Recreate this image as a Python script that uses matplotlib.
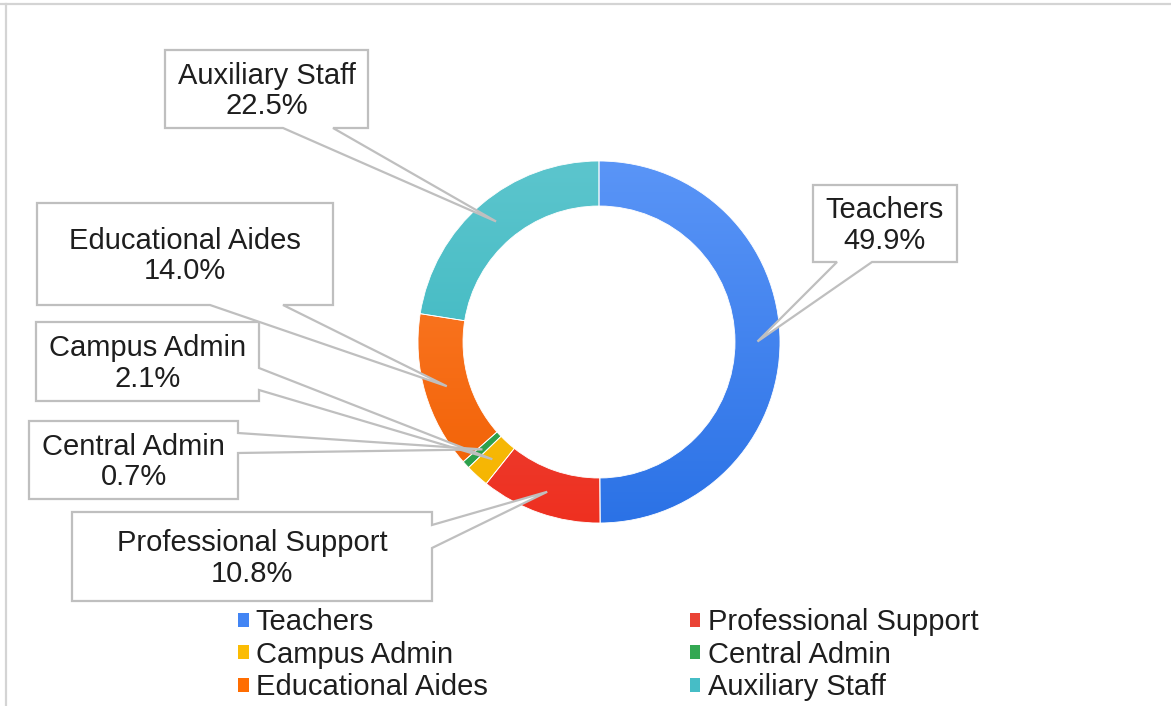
"""
Staff composition donut chart with callout labels.
"""

import matplotlib.pyplot as plt
import numpy as np
from matplotlib.colors import LinearSegmentedColormap
from matplotlib.lines import Line2D
from matplotlib.patches import Patch, Polygon

plt.rcParams['font.family'] = ['Liberation Sans', 'DejaVu Sans']

# --- Data ---
categories = ["Teachers", "Professional Support", "Campus Admin",
              "Central Admin", "Educational Aides", "Auxiliary Staff"]
shares = [49.9, 10.8, 2.1, 0.7, 14.0, 22.5]

# flat colours (legend) and light/dark pairs for the ring gradient
colors = ["#4285F4", "#EA4335", "#FBBC04", "#34A853", "#FF6D01", "#46BDC6"]
grad_light = ["#5A95F7", "#E5564E", "#FCC419", "#3BB05C", "#FF8133", "#5CC5CD"]
grad_dark = ["#2B72E6", "#EF3020", "#F5B400", "#2A9D48", "#F05E00", "#30B3BC"]

# --- Layout (pixels, measured from the top-left corner) ---
W, H = 1171, 706
CENTER = (599, 342)
R_OUT = 181
RING = 45
TEXT_COLOR = "#1E1E1E"
BOX_EDGE = "#BFBFBF"

# callout boxes: left, top, right, bottom, side of the pointer, pointer base
boxes = {
    "Teachers": (813, 185, 957, 262, "bottom", (837, 872)),
    "Professional Support": (72, 512, 432, 601, "right", (525, 548)),
    "Campus Admin": (36, 322, 259, 401, "right", (368, 390)),
    "Central Admin": (29, 421, 238, 499, "right", (433, 453)),
    "Educational Aides": (37, 203, 333, 305, "bottom", (210, 283)),
    "Auxiliary Staff": (165, 50, 368, 128, "bottom", (283, 333)),
}


def fy(y):
    """Pixel row (from top) to data y."""
    return H - y


def callout_outline(left, top, right, bottom, side, base, tip):
    top, bottom = fy(top), fy(bottom)
    if side == "bottom":
        x1, x2 = base
        return [(left, top), (right, top), (right, bottom), (x2, bottom),
                tip, (x1, bottom), (left, bottom)]
    y1, y2 = fy(base[0]), fy(base[1])
    return [(left, top), (right, top), (right, y1), tip, (right, y2),
            (right, bottom), (left, bottom)]


fig = plt.figure(figsize=(W / 100, H / 100), dpi=100)
ax = fig.add_axes([0, 0, 1, 1])

cx, cy = CENTER[0], fy(CENTER[1])
wedges, _ = ax.pie(shares, colors=colors, startangle=90, counterclock=False,
                   center=(cx, cy), radius=R_OUT, frame=True,
                   wedgeprops=dict(width=RING, edgecolor="white", linewidth=0.6))

# vertical gradient inside each slice
grad = np.linspace(0, 1, 256).reshape(-1, 1)
for w, lo, hi in zip(wedges, grad_dark, grad_light):
    cmap = LinearSegmentedColormap.from_list("g", [lo, hi])
    im = ax.imshow(grad, cmap=cmap, origin="lower", aspect="auto",
                   extent=[cx - R_OUT, cx + R_OUT, cy - R_OUT, cy + R_OUT],
                   zorder=1)
    im.set_clip_path(w)
    w.set_facecolor("none")
    w.set_zorder(2)
ax.set_xlim(0, W)
ax.set_ylim(0, H)
ax.axis("off")

# callouts pointing at the middle of each ring segment
r_mid = R_OUT - RING / 2
for w, name, val in zip(wedges, categories, shares):
    ang = np.deg2rad((w.theta1 + w.theta2) / 2)
    tip = (cx + r_mid * np.cos(ang), cy + r_mid * np.sin(ang))
    left, top, right, bottom, side, base = boxes[name]
    poly = Polygon(callout_outline(left, top, right, bottom, side, base, tip),
                   closed=True, facecolor="white", edgecolor=BOX_EDGE,
                   linewidth=1.6, joinstyle="miter", zorder=3)
    ax.add_patch(poly)
    ax.text((left + right) / 2, fy((top + bottom) / 2 + 2), f"{name}\n{val:.1f}%",
            ha="center", va="center", fontsize=21, color=TEXT_COLOR,
            linespacing=1.1, zorder=4)

# legend, filled row by row like the original
order = [0, 2, 4, 1, 3, 5]
handles = [Patch(facecolor=colors[i], edgecolor="none") for i in order]
labels = [categories[i] for i in order]
ax.legend(handles, labels, ncol=2, loc="upper left",
          bbox_to_anchor=(238 / W, (H - 608) / H), frameon=False,
          fontsize=21, handlelength=0.36, handleheight=0.36,
          handletextpad=0.25, columnspacing=6.93, labelspacing=0.16,
          borderpad=0, borderaxespad=0, labelcolor=TEXT_COLOR)

# light page border (top and left edges)
fig.add_artist(Line2D([0, 1], [1 - 4 / H, 1 - 4 / H], color="#D4D4D4",
                      linewidth=1.6))
fig.add_artist(Line2D([6 / W, 6 / W], [0, 1 - 4 / H], color="#D4D4D4",
                      linewidth=1.6))

fig.savefig("out.png", dpi=100)
